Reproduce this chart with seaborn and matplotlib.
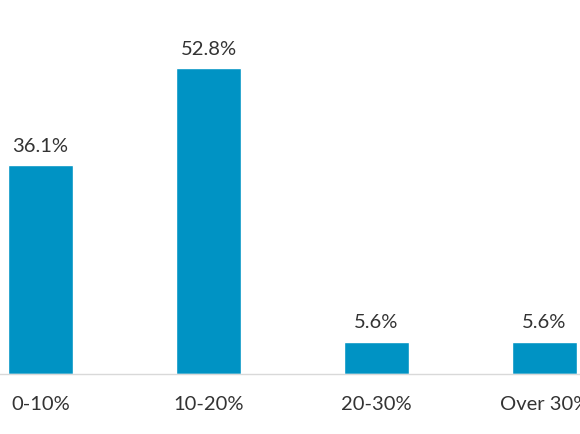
import matplotlib
matplotlib.use("Agg")
import matplotlib.pyplot as plt
import seaborn as sns
import pandas as pd

categories = ["0-10%", "10-20%", "20-30%", "Over 30%"]
values = [36.1, 52.8, 5.6, 5.6]
labels = ["36.1%", "52.8%", "5.6%", "5.6%"]

sns.set_theme(style="white")
plt.rcParams['font.family'] = ['Lato', 'DejaVu Sans']

df = pd.DataFrame({"cat": categories, "val": values})

fig = plt.figure(figsize=(5.8, 4.35), dpi=100)
fig.patch.set_facecolor("white")
ax = fig.add_axes([0, 60/435, 1, 375/435])
sns.barplot(data=df, x="cat", y="val", order=categories, color="#0093C4",
            saturation=1, width=0.387, ax=ax)
ax.set_xlim(-0.241, 3.211)
ax.set_ylim(0, 64.7)
ax.bar_label(ax.containers[0], labels=labels, padding=8, fontsize=14.5, color="#333333")
for s in ["top", "right", "left"]:
    ax.spines[s].set_visible(False)
ax.spines["bottom"].set_color("#d9d9d9")
ax.spines["bottom"].set_linewidth(1)
ax.set_yticks([])
ax.set_xlabel("")
ax.set_ylabel("")
ax.tick_params(axis="x", length=0, pad=15, labelsize=14.5, labelcolor="#333333")
fig.savefig("out.png", dpi=100, facecolor="white")
